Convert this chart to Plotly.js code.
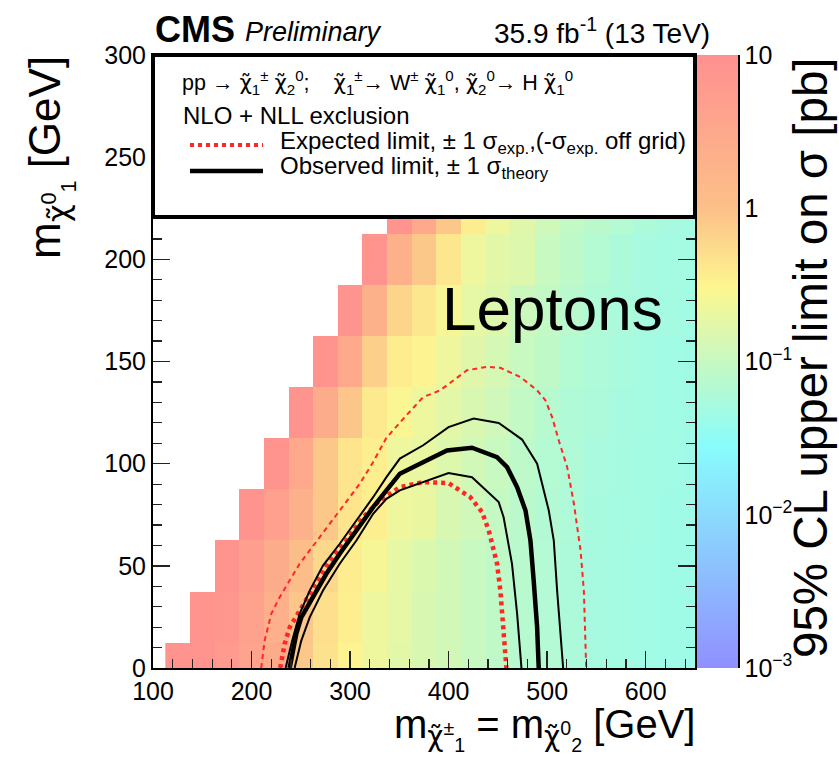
<!DOCTYPE html>
<html><head><meta charset="utf-8">
<script src="https://cdn.plot.ly/plotly-3.0.1.min.js"></script>
<style>html,body{margin:0;padding:0;background:#fff;} #chart{width:839px;height:771px;}</style>
</head><body><div id="chart"></div>
<script>
// ---------- data ----------
const mChargino = [125,150,175,200,225,250,275,300,325,350,375,400,425,450,475,500,525,550,575,600,625,650];
const mLSP = [0,25,50,75,100,125,150,175,200,225];
// 95% CL upper limit on sigma [pb], one array per LSP-mass row
const limit_0   = [8.3,8.3,6.3,4.0,2.6,0.83,0.47,0.32,0.22,0.178,0.141,0.126,0.102,0.087,0.074,0.066,0.058,0.052,0.050,0.047,0.045,0.043];
const limit_25  = [null,8.3,7.1,4.5,2.2,0.89,0.50,0.35,0.22,0.19,0.141,0.126,0.102,0.087,0.074,0.066,0.058,0.052,0.050,0.047,0.045,0.043];
const limit_50  = [null,null,8.3,5.0,2.6,1.12,0.59,0.37,0.26,0.19,0.151,0.126,0.102,0.087,0.076,0.066,0.058,0.052,0.050,0.047,0.045,0.043];
const limit_75  = [null,null,null,8.3,4.7,2.1,0.83,0.45,0.35,0.22,0.21,0.141,0.120,0.095,0.079,0.067,0.060,0.053,0.050,0.048,0.045,0.044];
const limit_100 = [null,null,null,null,8.3,3.2,0.83,0.45,0.35,0.22,0.20,0.158,0.126,0.102,0.083,0.068,0.062,0.054,0.051,0.048,0.046,0.044];
const limit_125 = [null,null,null,null,null,8.3,2.6,0.89,0.40,0.28,0.22,0.178,0.141,0.120,0.093,0.074,0.063,0.058,0.052,0.049,0.046,0.045];
const limit_150 = [null,null,null,null,null,null,8.3,3.2,0.71,0.37,0.32,0.22,0.166,0.132,0.102,0.087,0.068,0.060,0.055,0.050,0.047,0.045];
const limit_175 = [null,null,null,null,null,null,null,8.3,2.1,0.63,0.42,0.26,0.19,0.158,0.112,0.093,0.076,0.063,0.056,0.052,0.049,0.047];
const limit_200 = [null,null,null,null,null,null,null,null,8.3,2.1,0.83,0.42,0.22,0.178,0.158,0.102,0.083,0.068,0.058,0.052,0.049,0.048];
const limit_225 = [null,null,null,null,null,null,null,null,null,8.3,3.2,0.83,0.37,0.22,0.166,0.120,0.093,0.079,0.068,0.058,0.052,0.049];
const limitRows = [limit_0,limit_25,limit_50,limit_75,limit_100,limit_125,limit_150,limit_175,limit_200,limit_225];

// exclusion contours (GeV)
const expUpX = [209.8,213.3,220,228.5,248.8,269.1,289.5,309.9,323,336.9,355,374.2,391.5,418.6,439,452.5,472.8,489.8,498.2,505,512,520.3,527.1,533.9,537.2,539,539.6];
const expUpY = [0,13.4,26.5,34.6,51,64,77.1,90.2,100.5,112.7,122.5,132.6,135.9,145.7,147.4,146.9,142.4,135.9,131,122.8,111,98.3,80.4,57.4,37.9,13.4,0];
const expX = [229.1,233.6,238.7,248.8,262.4,279.3,296.2,313.2,330.2,350.5,374.2,399.9,422,433.9,440.7,449.1,452.5,455.8,458.6];
const expY = [0,11.8,19.9,28.1,39.5,52.6,62.4,73.8,82,88.5,91,90.5,83.6,76.3,67.3,51,37.9,19.9,0];
const obsX = [238.7,245.4,250.5,262.4,275.9,289.5,306.4,323.4,336.9,350.5,373,398.3,423.7,449.1,459.3,469.5,478,483,486.3,489.8,491.4];
const obsY = [0,16.7,24.8,34.6,46.1,55.9,67.3,78.7,86.9,95.1,100.5,106.5,107.8,103.2,98.3,88.5,77.1,62.4,42.8,19.9,0];
const obsUpX = [234.6,241,248.8,259,272.5,289.5,306.4,323.4,336.9,350.5,374.2,399.9,425.3,450.8,474.5,489.8,501.6,506.7,510.1,513.5,516.2];
const obsUpY = [0,13,26.5,37.9,50.1,60.8,72.2,83.6,93.4,102.5,109,117.9,122.1,119.9,111.8,100,77.1,62.4,37.9,16.7,0];
const obsDnX = [243.7,250.5,259,272.5,289.5,306.4,323.4,336.9,350.5,371.1,399.9,423.7,450.8,455.8,464.3,469.5,473.9];
const obsDnY = [0,13.4,24.8,37.9,51,62.4,75.5,82.8,86.9,90.5,95.4,93.4,81.2,73.8,51,26.5,0];

const cbTickVals = [0.001,0.01,0.1,1,10];
const cbTickText = ['10<sup>\u22123</sup>','10<sup>\u22122</sup>','10<sup>\u22121</sup>','1','10'];

// ---------- geometry helpers ----------
const W=839,H=771,L=153,R=101,T=55,B=103;
const pw=W-L-R, ph=H-T-B;
const X = px => (px-L)/pw;
const Y = py => (H-B-py)/ph;
const FONT = 'Liberation Sans, Arial, Helvetica, sans-serif';
const RED = 'rgb(255,38,38)';

const cbMinor = [];
for (let d=-3; d<1; d++) for (let k=2;k<=9;k++) cbMinor.push(k*Math.pow(10,d));

const traces = [
  {type:'heatmap', x:mChargino, y:mLSP,
   z: limitRows.map(r => r.map(v => v==null ? null : Math.log10(v))),
   zmin:-3, zmax:1, hoverinfo:'skip',
   colorscale:[[0,'rgb(144,144,255)'],[0.36,'rgb(136,252,252)'],[0.62,'rgb(253,246,144)'],[0.75,'rgb(252,192,136)'],[1,'rgb(255,144,144)']],
   colorbar:{x:X(697), xanchor:'left', xref:'paper', thickness:41, thicknessmode:'pixels', len:1, lenmode:'fraction', y:0.5, yanchor:'middle', outlinewidth:0, showticklabels:false, ticks:'', xpad:0, ypad:0}
  },
  {type:'scatter', mode:'lines', x:expUpX, y:expUpY, line:{color:RED, width:2, dash:'5px,4px'}, hoverinfo:'skip', showlegend:false},
  {type:'scatter', mode:'lines', x:expX, y:expY, line:{color:RED, width:4.5, dash:'4px,4px'}, hoverinfo:'skip', showlegend:false},
  {type:'scatter', mode:'lines', x:obsUpX, y:obsUpY, line:{color:'black', width:2}, hoverinfo:'skip', showlegend:false},
  {type:'scatter', mode:'lines', x:obsDnX, y:obsDnY, line:{color:'black', width:2}, hoverinfo:'skip', showlegend:false},
  {type:'scatter', mode:'lines', x:obsX, y:obsY, line:{color:'black', width:4.5}, hoverinfo:'skip', showlegend:false},
  {type:'scatter', mode:'lines', x:[null], y:[null], yaxis:'y2', hoverinfo:'skip', showlegend:false}
];

const axCommon = {showgrid:false, zeroline:false, showline:true, linecolor:'black', linewidth:2,
  ticks:'inside', ticklen:17, tickwidth:1.5, tickcolor:'#222', mirror:'ticks',
  tickfont:{family:FONT, size:25, color:'black'}};

const ann = (text, px, py, size, opts={}) => Object.assign({xref:'paper', yref:'paper', x:X(px), y:Y(py), text, showarrow:false,
  font:{family:FONT, size, color:'black'}, xanchor:'left', yanchor:'middle'}, opts);

const NB = '\u00a0';
const chi = '<span style="font-family:DejaVu Sans">\u03c7\u0303</span>';
const layout = {
  width:W, height:H, margin:{l:L, r:R, t:T, b:B}, paper_bgcolor:'white', plot_bgcolor:'white', showlegend:false,
  xaxis: Object.assign({}, axCommon, {domain:[0, X(695)], range:[100,650], dtick:100, tick0:0,
     minor:{dtick:20, ticks:'inside', ticklen:9, tickwidth:1.2, tickcolor:'#222', showgrid:false}}),
  yaxis: Object.assign({}, axCommon, {range:[0,300], dtick:50, tick0:0,
     minor:{dtick:10, ticks:'inside', ticklen:9, tickwidth:1.2, tickcolor:'#222', showgrid:false}}),
  yaxis2: {overlaying:'y', anchor:'free', position:1, side:'right', type:'log', range:[-3,1],
     showgrid:false, zeroline:false, showline:true, linecolor:'black', linewidth:1.5,
     tickmode:'array', tickvals:cbTickVals, ticktext:cbTickText, ticks:'inside', ticklen:20, tickwidth:1.5, tickcolor:'#222',
     minor:{tickmode:'array', tickvals:cbMinor, ticks:'inside', ticklen:10, tickwidth:1.2, tickcolor:'#222', showgrid:false},
     tickfont:{family:FONT, size:25, color:'black'}},
  shapes:[
    {type:'rect', xref:'x domain', yref:'y domain', x0:0, x1:1, y0:Y(217), y1:1, line:{color:'black', width:4}, fillcolor:'white', layer:'above'},
    {type:'line', xref:'paper', yref:'paper', x0:X(190), x1:X(263), y0:Y(145), y1:Y(145), line:{color:RED, width:4, dash:'4px,4px'}, layer:'above'},
    {type:'line', xref:'paper', yref:'paper', x0:X(190), x1:X(263), y0:Y(171), y1:Y(171), line:{color:'black', width:4.5}, layer:'above'}
  ],
  annotations:[
    ann('<b>CMS</b>', 153, 30, 36),
    ann('<i>Preliminary</i>', 243, 32, 27),
    ann('35.9 fb<sup>-1</sup> (13 TeV)', 712, 31, 28, {xanchor:'right'}),
    ann('pp \u2192 '+chi+'<sub>1</sub><sup>\u00b1</sup> '+chi+'<sub>2</sub><sup>0</sup>;'+NB+NB+NB+NB+chi+'<sub>1</sub><sup>\u00b1</sup>\u2192 W<sup>\u00b1</sup> '+chi+'<sub>1</sub><sup>0</sup>, '+chi+'<sub>2</sub><sup>0</sup>\u2192 H '+chi+'<sub>1</sub><sup>0</sup>', 180, 82, 21.5),
    ann('NLO + NLL exclusion', 181, 115, 24),
    ann('Expected limit, \u00b1 1 \u03c3<sub>exp.</sub>,(-\u03c3<sub>exp.</sub> off grid)', 278, 142, 24),
    ann('Observed limit, \u00b1 1 \u03c3<sub>theory</sub>', 278, 168, 24),
    ann('Leptons', 440, 308, 62),
    ann('m<sub>'+chi+'<sup>0</sup><sub>1</sub></sub> [GeV]', 18, 54, 44, {textangle:-90, xanchor:'left', yanchor:'top'}),
    ann('m<sub>'+chi+'<sup>\u00b1</sup><sub>1</sub></sub> = m<sub>'+chi+'<sup>0</sup><sub>2</sub></sub> [GeV]', 697, 700, 40, {xanchor:'right', yanchor:'top'}),
    ann('95% CL upper limit on \u03c3 [pb]', 839, 55, 47.5, {textangle:-90, xanchor:'right', yanchor:'top'})
  ]
};

Plotly.newPlot('chart', traces, layout, {staticPlot:true, displayModeBar:false});
</script></body></html>
